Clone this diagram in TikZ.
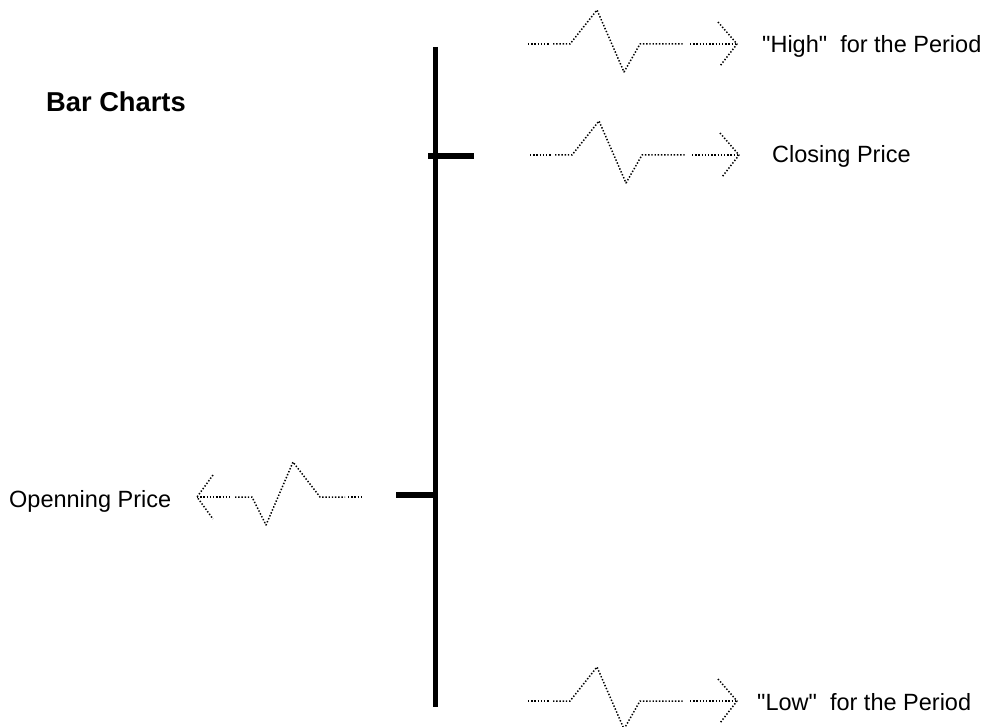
\documentclass[tikz,border=0pt]{standalone}
\usepackage{fontspec}
\setmainfont{Liberation Sans}
\newfontfamily\arialf{Liberation Sans}
\begin{document}
\begin{tikzpicture}[x=1pt,y=-1pt,
  lbl/.style={anchor=base west, inner sep=0pt, font=\arialf\fontsize{23.5}{28}\selectfont},
  ttl/.style={anchor=base west, inner sep=0pt, font=\arialf\bfseries\fontsize{27.3}{32}\selectfont},
  squig/.style={line width=1.5pt, dash pattern=on 1.4pt off 1.8pt, line join=round},
  barline/.style={line width=5pt},
  tickline/.style={line width=6pt},
  rsq/.pic={
    \coordinate (-s) at (0,0);
    \coordinate (-tip) at (209,0);
    \draw[squig] (-s) -- (22,0);
    \draw[squig] (25,0) -- (42,0) -- (69,-34) -- (96,28) -- (112,0) -- (155,0);
    \draw[squig] (162,0) -- (-tip);
    \draw[squig] (190,-22) -- (-tip) -- (192,22);
  },
  lsq/.pic={
    \coordinate (-tip) at (0,0);
    \coordinate (-e) at (165,0);
    \draw[squig] (-tip) -- (33,0);
    \draw[squig] (38,0) -- (55,0) -- (69,28) -- (96,-35) -- (123,0) -- (148,0);
    \draw[squig] (151,0) -- (-e);
    \draw[squig] (16,-22) -- (-tip) -- (16,22);
  }
]
\useasboundingbox (0,0) rectangle (987,727);

% title
\node[ttl] (title) at (46,112) {Bar Charts};

% bar
\coordinate (bartop) at (435,47);
\coordinate (barbot) at (435,707);
\draw[barline] (bartop) -- (barbot);
\coordinate (closeL) at (428,156);
\coordinate (closeR) at (474,156);
\draw[tickline] (closeL) -- (closeR);
\coordinate (openL) at (396,494.5);
\coordinate (openR) at (435,494.5);
\draw[tickline] (openL) -- (openR);

% squiggle arrows
\pic (hi) at (528,44) {rsq};
\pic (cl) at (530,155) {rsq};
\pic (lo) at (528,701) {rsq};
\pic (op) at (197,497) {lsq};

% labels
\node[lbl] (high) at (762,53) {"High"\ \ for the Period};
\node[lbl] (closing) at (772,163) {Closing Price};
\node[lbl] (low) at (757,710) {"Low"\ \ for the Period};
\node[lbl] (opening) at (9,507) {Openning Price};
\end{tikzpicture}
\end{document}
